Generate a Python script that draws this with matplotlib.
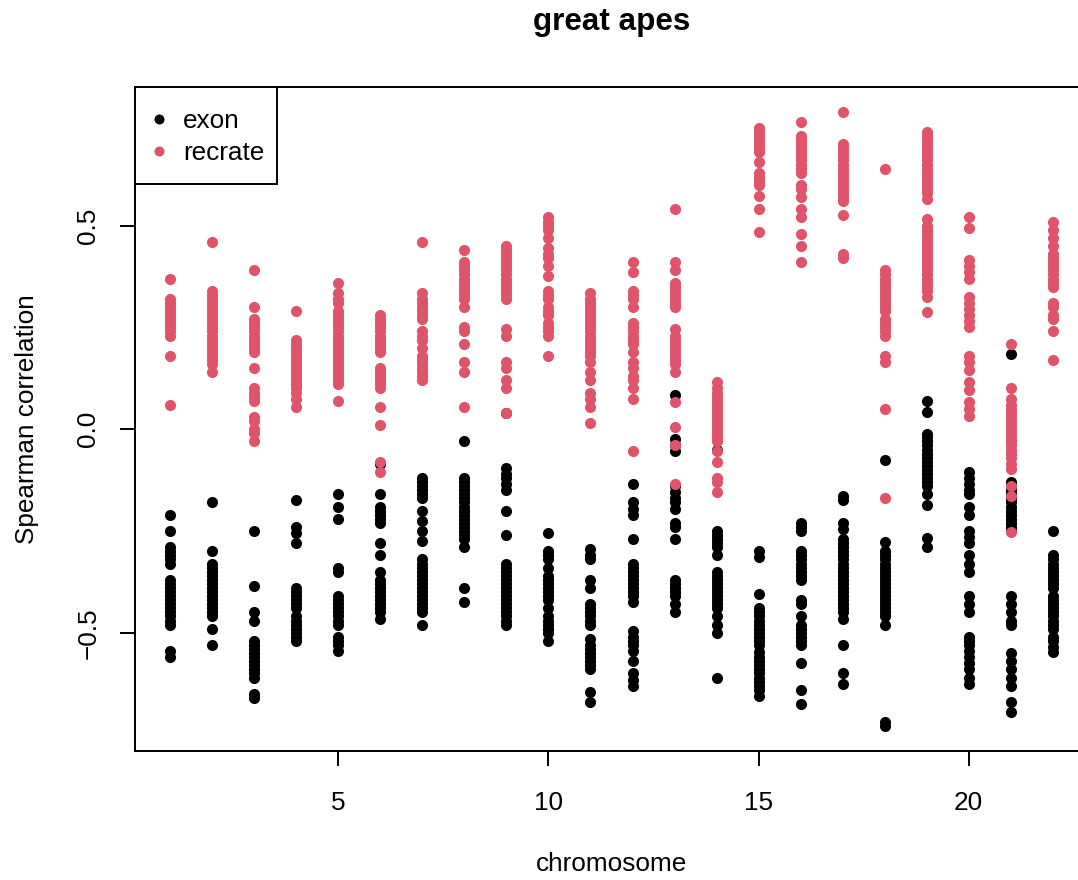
import matplotlib
matplotlib.use("Agg")
import matplotlib.pyplot as plt
from matplotlib.patches import Rectangle
from matplotlib.lines import Line2D

plt.rcParams['font.family'] = ['Liberation Sans', 'DejaVu Sans']

# Spearman correlations per chromosome
exon_01 = [-0.21, -0.25, -0.29, -0.30, -0.31, -0.32, -0.33, -0.37, -0.38, -0.39, -0.40, -0.41, -0.42, -0.43, -0.44, -0.45, -0.46, -0.47, -0.48, -0.545, -0.56]
exon_02 = [-0.18, -0.30, -0.33, -0.34, -0.35, -0.36, -0.37, -0.38, -0.39, -0.40, -0.41, -0.42, -0.43, -0.44, -0.45, -0.46, -0.49, -0.53]
exon_03 = [-0.25, -0.385, -0.45, -0.47, -0.52, -0.53, -0.54, -0.55, -0.56, -0.57, -0.58, -0.59, -0.60, -0.61, -0.65, -0.66]
exon_04 = [-0.175, -0.24, -0.255, -0.28, -0.39, -0.40, -0.41, -0.42, -0.43, -0.44, -0.46, -0.47, -0.48, -0.49, -0.50, -0.51, -0.52]
exon_05 = [-0.16, -0.19, -0.22, -0.34, -0.35, -0.41, -0.42, -0.43, -0.44, -0.45, -0.46, -0.47, -0.48, -0.51, -0.52, -0.53, -0.545]
exon_06 = [-0.085, -0.16, -0.19, -0.20, -0.21, -0.22, -0.23, -0.28, -0.31, -0.35, -0.37, -0.38, -0.39, -0.40, -0.41, -0.42, -0.43, -0.44, -0.45, -0.465]
exon_07 = [-0.12, -0.13, -0.14, -0.15, -0.16, -0.17, -0.20, -0.225, -0.25, -0.275, -0.32, -0.33, -0.34, -0.35, -0.36, -0.37, -0.38, -0.39, -0.40, -0.41, -0.42, -0.43, -0.44, -0.45, -0.48]
exon_08 = [-0.03, -0.12, -0.13, -0.14, -0.15, -0.16, -0.17, -0.18, -0.19, -0.20, -0.21, -0.22, -0.23, -0.24, -0.25, -0.26, -0.27, -0.29, -0.39, -0.425]
exon_09 = [0.04, -0.095, -0.11, -0.12, -0.135, -0.15, -0.20, -0.26, -0.33, -0.34, -0.35, -0.36, -0.37, -0.38, -0.39, -0.40, -0.41, -0.42, -0.43, -0.44, -0.45, -0.46, -0.47, -0.48]
exon_10 = [-0.255, -0.30, -0.31, -0.32, -0.34, -0.36, -0.37, -0.38, -0.39, -0.40, -0.41, -0.42, -0.44, -0.46, -0.47, -0.48, -0.49, -0.50, -0.52]
exon_11 = [-0.295, -0.31, -0.32, -0.37, -0.39, -0.43, -0.44, -0.45, -0.46, -0.47, -0.48, -0.515, -0.53, -0.54, -0.55, -0.56, -0.57, -0.58, -0.59, -0.645, -0.67]
exon_12 = [-0.135, -0.18, -0.195, -0.21, -0.27, -0.33, -0.34, -0.35, -0.36, -0.37, -0.38, -0.39, -0.40, -0.41, -0.425, -0.495, -0.51, -0.52, -0.53, -0.545, -0.57, -0.60, -0.615, -0.63]
exon_13 = [0.085, -0.025, -0.04, -0.053, -0.14, -0.155, -0.17, -0.18, -0.195, -0.23, -0.24, -0.27, -0.37, -0.38, -0.39, -0.40, -0.41, -0.43, -0.45]
exon_14 = [-0.05, -0.25, -0.26, -0.27, -0.28, -0.29, -0.31, -0.35, -0.36, -0.37, -0.38, -0.39, -0.40, -0.41, -0.42, -0.43, -0.44, -0.46, -0.48, -0.50, -0.61]
exon_15 = [-0.30, -0.315, -0.405, -0.44, -0.45, -0.46, -0.47, -0.48, -0.49, -0.50, -0.51, -0.52, -0.53, -0.547, -0.56, -0.57, -0.58, -0.59, -0.60, -0.61, -0.62, -0.63, -0.64, -0.655]
exon_16 = [-0.23, -0.24, -0.25, -0.30, -0.31, -0.32, -0.33, -0.34, -0.35, -0.36, -0.37, -0.42, -0.43, -0.46, -0.48, -0.49, -0.50, -0.51, -0.52, -0.53, -0.575, -0.64, -0.675]
exon_17 = [-0.165, -0.175, -0.23, -0.245, -0.27, -0.28, -0.29, -0.30, -0.31, -0.32, -0.33, -0.34, -0.35, -0.36, -0.37, -0.38, -0.39, -0.40, -0.41, -0.42, -0.43, -0.44, -0.45, -0.465, -0.53, -0.60, -0.625]
exon_18 = [-0.075, -0.277, -0.30, -0.31, -0.32, -0.33, -0.34, -0.35, -0.36, -0.37, -0.38, -0.39, -0.40, -0.41, -0.42, -0.43, -0.44, -0.45, -0.46, -0.48, -0.72, -0.73]
exon_19 = [0.07, 0.042, -0.012, -0.02, -0.03, -0.04, -0.05, -0.06, -0.07, -0.08, -0.09, -0.10, -0.11, -0.12, -0.13, -0.14, -0.16, -0.185, -0.267, -0.29]
exon_20 = [-0.105, -0.12, -0.135, -0.15, -0.16, -0.19, -0.21, -0.25, -0.265, -0.28, -0.31, -0.33, -0.35, -0.41, -0.43, -0.45, -0.51, -0.52, -0.53, -0.545, -0.56, -0.575, -0.59, -0.61, -0.625]
exon_21 = [0.185, -0.13, -0.14, -0.15, -0.16, -0.17, -0.18, -0.19, -0.20, -0.21, -0.22, -0.23, -0.24, -0.25, -0.41, -0.43, -0.45, -0.47, -0.48, -0.55, -0.57, -0.59, -0.61, -0.63, -0.67, -0.695]
exon_22 = [-0.25, -0.31, -0.32, -0.33, -0.34, -0.35, -0.36, -0.37, -0.38, -0.39, -0.41, -0.42, -0.43, -0.44, -0.45, -0.46, -0.47, -0.48, -0.49, -0.51, -0.52, -0.535, -0.547]

recrate_01 = [0.37, 0.32, 0.31, 0.30, 0.29, 0.28, 0.27, 0.26, 0.25, 0.24, 0.23, 0.18, 0.06]
recrate_02 = [0.46, 0.34, 0.33, 0.32, 0.31, 0.30, 0.29, 0.28, 0.27, 0.26, 0.25, 0.24, 0.23, 0.22, 0.21, 0.20, 0.19, 0.18, 0.17, 0.16, 0.14]
recrate_03 = [0.39, 0.30, 0.27, 0.26, 0.25, 0.24, 0.23, 0.22, 0.21, 0.20, 0.19, 0.15, 0.10, 0.09, 0.08, 0.07, 0.03, 0.02, 0.0, -0.01, -0.03]
recrate_04 = [0.29, 0.22, 0.21, 0.20, 0.19, 0.18, 0.17, 0.16, 0.15, 0.14, 0.13, 0.12, 0.11, 0.10, 0.09, 0.075, 0.055]
recrate_05 = [0.36, 0.335, 0.32, 0.31, 0.29, 0.28, 0.27, 0.26, 0.25, 0.24, 0.23, 0.22, 0.21, 0.20, 0.19, 0.18, 0.17, 0.16, 0.15, 0.14, 0.13, 0.12, 0.11, 0.07]
recrate_06 = [0.28, 0.27, 0.26, 0.25, 0.24, 0.23, 0.22, 0.21, 0.20, 0.19, 0.15, 0.14, 0.13, 0.12, 0.11, 0.10, 0.055, 0.01, -0.08, -0.105]
recrate_07 = [0.46, 0.335, 0.32, 0.31, 0.30, 0.29, 0.28, 0.27, 0.24, 0.23, 0.22, 0.20, 0.18, 0.17, 0.16, 0.15, 0.14, 0.13, 0.12]
recrate_08 = [0.44, 0.41, 0.40, 0.39, 0.38, 0.37, 0.36, 0.35, 0.34, 0.33, 0.32, 0.30, 0.25, 0.24, 0.21, 0.165, 0.14, 0.055]
recrate_09 = [0.45, 0.44, 0.43, 0.42, 0.41, 0.40, 0.39, 0.38, 0.37, 0.36, 0.35, 0.34, 0.33, 0.32, 0.245, 0.23, 0.165, 0.15, 0.12, 0.10, 0.04]
recrate_10 = [0.52, 0.51, 0.50, 0.49, 0.47, 0.445, 0.43, 0.42, 0.40, 0.375, 0.34, 0.33, 0.32, 0.30, 0.29, 0.28, 0.26, 0.25, 0.24, 0.23, 0.18]
recrate_11 = [0.335, 0.32, 0.31, 0.30, 0.29, 0.28, 0.27, 0.26, 0.25, 0.24, 0.23, 0.22, 0.21, 0.20, 0.19, 0.18, 0.165, 0.14, 0.12, 0.09, 0.075, 0.054, 0.015]
recrate_12 = [0.41, 0.385, 0.34, 0.33, 0.32, 0.30, 0.26, 0.25, 0.24, 0.23, 0.22, 0.21, 0.19, 0.165, 0.15, 0.13, 0.12, 0.10, 0.073, -0.053]
recrate_13 = [0.54, 0.41, 0.39, 0.36, 0.35, 0.34, 0.33, 0.32, 0.31, 0.30, 0.245, 0.23, 0.22, 0.21, 0.20, 0.19, 0.18, 0.17, 0.16, 0.14, 0.066, 0.005, -0.04, -0.135]
recrate_14 = [0.115, 0.10, 0.09, 0.08, 0.07, 0.06, 0.05, 0.04, 0.03, 0.02, 0.01, 0.0, -0.01, -0.02, -0.03, -0.053, -0.08, -0.12, -0.13, -0.155]
recrate_15 = [0.74, 0.73, 0.72, 0.71, 0.70, 0.69, 0.68, 0.655, 0.63, 0.62, 0.61, 0.60, 0.573, 0.54, 0.485]
recrate_16 = [0.755, 0.72, 0.71, 0.70, 0.69, 0.68, 0.67, 0.66, 0.65, 0.64, 0.63, 0.60, 0.59, 0.57, 0.54, 0.52, 0.48, 0.45, 0.41]
recrate_17 = [0.78, 0.70, 0.69, 0.68, 0.67, 0.66, 0.65, 0.64, 0.63, 0.62, 0.61, 0.60, 0.59, 0.58, 0.57, 0.56, 0.527, 0.43, 0.42]
recrate_18 = [0.64, 0.39, 0.38, 0.37, 0.36, 0.35, 0.34, 0.33, 0.32, 0.31, 0.30, 0.29, 0.27, 0.26, 0.25, 0.24, 0.23, 0.18, 0.165, 0.05, -0.17]
recrate_19 = [0.73, 0.72, 0.71, 0.70, 0.69, 0.68, 0.67, 0.66, 0.65, 0.64, 0.63, 0.62, 0.61, 0.60, 0.59, 0.58, 0.565, 0.515, 0.50, 0.49, 0.48, 0.47, 0.46, 0.45, 0.44, 0.43, 0.42, 0.41, 0.40, 0.39, 0.38, 0.37, 0.36, 0.35, 0.34, 0.325, 0.287]
recrate_20 = [0.52, 0.495, 0.415, 0.40, 0.385, 0.37, 0.325, 0.31, 0.295, 0.28, 0.265, 0.25, 0.18, 0.165, 0.145, 0.115, 0.095, 0.066, 0.05, 0.032]
recrate_21 = [0.21, 0.10, 0.073, 0.06, 0.05, 0.04, 0.03, 0.02, 0.01, 0.0, -0.01, -0.02, -0.03, -0.04, -0.05, -0.06, -0.07, -0.085, -0.098, -0.14, -0.165, -0.253]
recrate_22 = [0.51, 0.49, 0.47, 0.45, 0.43, 0.42, 0.41, 0.40, 0.39, 0.38, 0.37, 0.36, 0.35, 0.31, 0.30, 0.28, 0.27, 0.24, 0.17]

exon = [exon_01, exon_02, exon_03, exon_04, exon_05, exon_06, exon_07, exon_08, exon_09, exon_10, exon_11,
        exon_12, exon_13, exon_14, exon_15, exon_16, exon_17, exon_18, exon_19, exon_20, exon_21, exon_22]
recrate = [recrate_01, recrate_02, recrate_03, recrate_04, recrate_05, recrate_06, recrate_07, recrate_08,
           recrate_09, recrate_10, recrate_11, recrate_12, recrate_13, recrate_14, recrate_15, recrate_16,
           recrate_17, recrate_18, recrate_19, recrate_20, recrate_21, recrate_22]
chromosomes = list(range(1, 23))

RED = '#DF536B'
W, H = 1078, 880
fig = plt.figure(figsize=(W / 100, H / 100), dpi=100)
# plot region in pixels: left 135, right 1088 (runs past the right edge), top 87, bottom 751
L, R, T, B = 135, 1088, 87, 751
ax = fig.add_axes([L / W, 1 - B / H, (R - L) / W, (B - T) / H])

def flat(groups):
    xs, ys = [], []
    for c, vals in zip(chromosomes, groups):
        xs += [c] * len(vals)
        ys += vals
    return xs, ys

ex_x, ex_y = flat(exon)
rc_x, rc_y = flat(recrate)
ax.scatter(ex_x, ex_y, s=64, color='black', linewidths=0, zorder=3)
ax.scatter(rc_x, rc_y, s=64, color=RED, linewidths=0, zorder=4)

ax.set_xlim(1 - 0.04 * 21, 22 + 0.04 * 21)
ax.set_ylim(-0.73 - 0.04 * 1.51, 0.78 + 0.04 * 1.51)

for s in ax.spines.values():
    s.set_linewidth(1.4)

ax.set_xticks([5, 10, 15, 20])
ax.set_xticklabels(['5', '10', '15', '20'])
ax.set_yticks([-0.5, 0.0, 0.5])
ax.set_yticklabels(['\u22120.5', '0.0', '0.5'], rotation=90, va='center')
ax.tick_params(axis='both', length=11, width=1.4, labelsize=18.8, direction='out')
ax.tick_params(axis='x', pad=18)
ax.tick_params(axis='y', pad=14)

fs = 18.8
fig.text((L + R) / 2 / W, 1 - 22 / H, 'great apes', ha='center', va='center', fontsize=22.6, fontweight='bold')
fig.text((L + R) / 2 / W, 1 - 864 / H, 'chromosome', ha='center', va='center', fontsize=fs)
fig.text(27 / W, 1 - 419 / H, 'Spearman correlation', ha='center', va='center', fontsize=fs, rotation=90)

# legend box in the top-left corner
leg_w, leg_h = 142, 97
ax.add_patch(Rectangle((0, 1 - leg_h / (B - T)), leg_w / (R - L), leg_h / (B - T), transform=ax.transAxes,
                       facecolor='white', edgecolor='black', linewidth=1.4, zorder=6, clip_on=False))
for label, col, py in [('exon', 'black', 119), ('recrate', RED, 151)]:
    ya = (B - py) / (B - T)
    ax.add_line(Line2D([(159 - L) / (R - L)], [ya], transform=ax.transAxes, marker='o', markersize=7.2,
                       color=col, markeredgewidth=0, linestyle='none', zorder=7))
    ax.text((183 - L) / (R - L), ya, label, transform=ax.transAxes, ha='left', va='center_baseline',
            fontsize=fs, zorder=7)

fig.savefig('out.png', dpi=100)
